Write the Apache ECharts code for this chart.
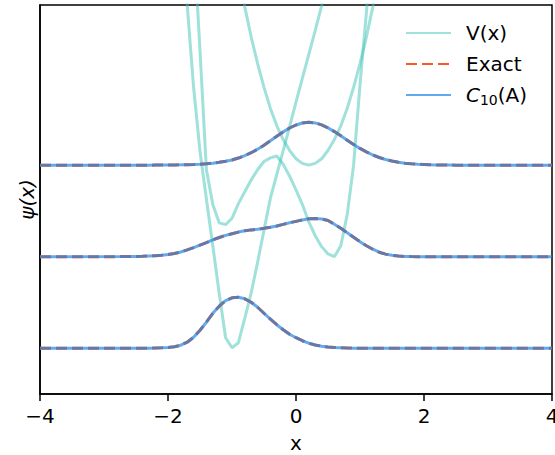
<!DOCTYPE html>
<html>
<head>
<meta charset="utf-8">
<script src="https://cdn.jsdelivr.net/npm/echarts@6/dist/echarts.min.js"></script>
<style>
  html, body { margin: 0; padding: 0; background: #fff; overflow: hidden; }
  #chart { width: 555px; height: 455px; overflow: hidden; }
</style>
</head>
<body>
<div id="chart"></div>
<script>
// Sample positions shared by every curve
const xs = [-4,
  -2.6, -2.5, -2.4, -2.3, -2.2, -2.1, -2.0, -1.9, -1.8, -1.7, -1.6, -1.5, -1.4,
  -1.3, -1.2, -1.1, -1.0, -0.9, -0.8, -0.7, -0.6, -0.5, -0.4, -0.3, -0.2, -0.1,
  0, 0.1, 0.2, 0.3, 0.4, 0.5, 0.6, 0.7, 0.8, 0.9, 1.0, 1.1, 1.2, 1.3,
  1.4, 1.5, 1.6, 1.7, 1.8, 1.9, 2.0, 2.1, 2.2, 2.3, 2.4, 2.5, 2.6,
  4];

// Energy level each state is drawn around
const levels = [0.5, 1.5, 2.5];

// Potentials (null where the curve is far above the frame)
const V0 = [null,
  null, null, null, null, null, null, null, null, 5.2, 4.25, 3.35, 2.65, 2.13,
  1.62, 1.10, 0.615, 0.505, 0.56, 0.83, 1.106, 1.44, 1.79, 2.14, 2.40, 2.66, 2.92,
  3.19, 3.45, 3.71, 3.97, 4.24, 4.5, null, null, null, null, null, null, null, null,
  null, null, null, null, null, null, null, null, null, null, null, null, null,
  null];
const V1 = [null,
  null, null, null, null, null, null, null, null, null, null, 5.0, 3.75, 2.45,
  2.07, 1.87, 1.85, 1.92, 2.08, 2.21, 2.34, 2.45, 2.54, 2.58, 2.60, 2.51, 2.38,
  2.23, 2.07, 1.88, 1.73, 1.61, 1.53, 1.50, 1.62, 1.96, 2.5, 3.38, 4.17, 5.0, null,
  null, null, null, null, null, null, null, null, null, null, null, null, null,
  null];
const V2 = [null,
  null, null, null, null, null, null, null, null, null, null, null, null, null,
  null, null, null, 4.99, 4.59, 4.23, 3.90, 3.61, 3.35, 3.12, 2.93, 2.78, 2.66,
  2.57, 2.52, 2.5, 2.52, 2.57, 2.66, 2.78, 2.93, 3.12, 3.35, 3.61, 3.90, 4.23, 4.59,
  null, null, null, null, null, null, null, null, null, null, null, null, null,
  null];

// Wavefunctions relative to their level
const psi0 = [0,
  0, 0, 0, 0.001, 0.002, 0.004, 0.009, 0.016, 0.033, 0.066, 0.12, 0.197, 0.284,
  0.382, 0.459, 0.519, 0.551, 0.557, 0.54, 0.502, 0.448, 0.382, 0.317, 0.257, 0.202, 0.153,
  0.115, 0.082, 0.055, 0.036, 0.022, 0.013, 0.008, 0.004, 0.002, 0.001, 0, 0, 0, 0,
  0, 0, 0, 0, 0, 0, 0, 0, 0, 0, 0, 0, 0,
  0];
const psi1 = [0,
  0.001, 0.002, 0.004, 0.008, 0.011, 0.016, 0.024, 0.035, 0.052, 0.074, 0.099, 0.127, 0.155,
  0.184, 0.21, 0.233, 0.251, 0.269, 0.283, 0.293, 0.3, 0.31, 0.321, 0.336, 0.353, 0.371,
  0.386, 0.402, 0.414, 0.418, 0.413, 0.395, 0.355, 0.311, 0.262, 0.213, 0.164, 0.12, 0.082, 0.049,
  0.028, 0.015, 0.008, 0.003, 0.001, 0, 0, 0, 0, 0, 0, 0, 0,
  0];
const psi2 = [0,
  0, 0, 0, 0, 0.001, 0.002, 0.002, 0.003, 0.004, 0.006, 0.008, 0.011, 0.015,
  0.022, 0.031, 0.043, 0.057, 0.078, 0.104, 0.136, 0.175, 0.218, 0.267, 0.317, 0.364, 0.406,
  0.439, 0.461, 0.469, 0.462, 0.441, 0.408, 0.367, 0.321, 0.273, 0.227, 0.183, 0.145, 0.111, 0.084,
  0.062, 0.045, 0.032, 0.022, 0.015, 0.01, 0.007, 0.004, 0.003, 0.002, 0.001, 0, 0,
  0];

const xTicks = [-4, -2, 0, 2, 4];

const FONT = 'DejaVu Sans';
const TEAL = 'rgba(64,196,184,0.5)';
const ORANGE = '#ff5722';
const BLUE = 'rgba(30,136,229,0.7)';

const potentials = [V0, V1, V2];
const states = [psi0, psi1, psi2];

function pairs(ys, offset) {
  return xs.map((x, i) => [x, ys[i] == null ? null : offset + ys[i]]);
}

const series = [];
potentials.forEach(v => series.push({
  name: 'V(x)', type: 'line', data: pairs(v, 0), symbol: 'none', z: 1,
  lineStyle: { color: TEAL, width: 3 }, itemStyle: { color: TEAL }
}));
states.forEach((psi, n) => {
  series.push({
    name: 'Exact', type: 'line', data: pairs(psi, levels[n]), symbol: 'none', z: 2,
    lineStyle: { color: ORANGE, width: 3, type: [11, 5] }, itemStyle: { color: ORANGE }
  });
  series.push({
    name: 'C10(A)', type: 'line', data: pairs(psi, levels[n]), symbol: 'none', z: 3,
    lineStyle: { color: BLUE, width: 3 }, itemStyle: { color: BLUE }
  });
});

const chart = echarts.init(document.getElementById('chart'), null, { renderer: 'svg' });
chart.setOption({
  animation: false,
  textStyle: { fontFamily: FONT },
  grid: {
    left: 40, right: 3, top: 5, bottom: 61,
    outerBoundsMode: 'none', containLabel: false,
    show: true, borderColor: '#000', borderWidth: 1.5, backgroundColor: 'transparent'
  },
  legend: {
    orient: 'vertical', left: 400, top: 18,
    itemWidth: 45, itemHeight: 14, itemGap: 11,
    itemStyle: { opacity: 0 },
    data: ['V(x)', 'Exact', 'C10(A)'],
    textStyle: {
      fontFamily: FONT, fontSize: 20, color: '#000', padding: [0, 0, 0, 10],
      rich: {
        i: { fontFamily: FONT, fontSize: 20, fontStyle: 'italic', color: '#000' },
        s: { fontFamily: FONT, fontSize: 14, color: '#000', padding: [10, 0, 0, 0] },
        r: { fontFamily: FONT, fontSize: 20, color: '#000' }
      }
    },
    formatter: name => name === 'C10(A)' ? '{i|C}{s|10}{r|(A)}' : name
  },
  xAxis: {
    type: 'value', min: -4, max: 4, interval: 2,
    axisLine: { show: true, onZero: false, lineStyle: { color: '#000', width: 1.5 } },
    axisTick: { show: true, length: 7, lineStyle: { color: '#000', width: 1.5 } },
    axisLabel: {
      fontFamily: FONT, fontSize: 20, color: '#000', margin: 12,
      formatter: v => xTicks.includes(v) ? (v < 0 ? '\u2212' + (-v) : String(v)) : ''
    },
    splitLine: { show: false },
    name: 'x', nameLocation: 'middle', nameGap: 43,
    nameTextStyle: { fontFamily: FONT, fontSize: 20, lineHeight: 12, color: '#000' }
  },
  yAxis: {
    type: 'value', min: 0, max: 4.25,
    axisLine: { show: true, onZero: false, lineStyle: { color: '#000', width: 1.5 } },
    axisTick: { show: false }, axisLabel: { show: false }, splitLine: { show: false },
    name: 'ψ(x)', nameLocation: 'middle', nameGap: 3, nameRotate: 90,
    nameTextStyle: { fontFamily: FONT, fontSize: 20, fontStyle: 'italic', color: '#000' }
  },
  series: series
});
</script>
</body>
</html>
